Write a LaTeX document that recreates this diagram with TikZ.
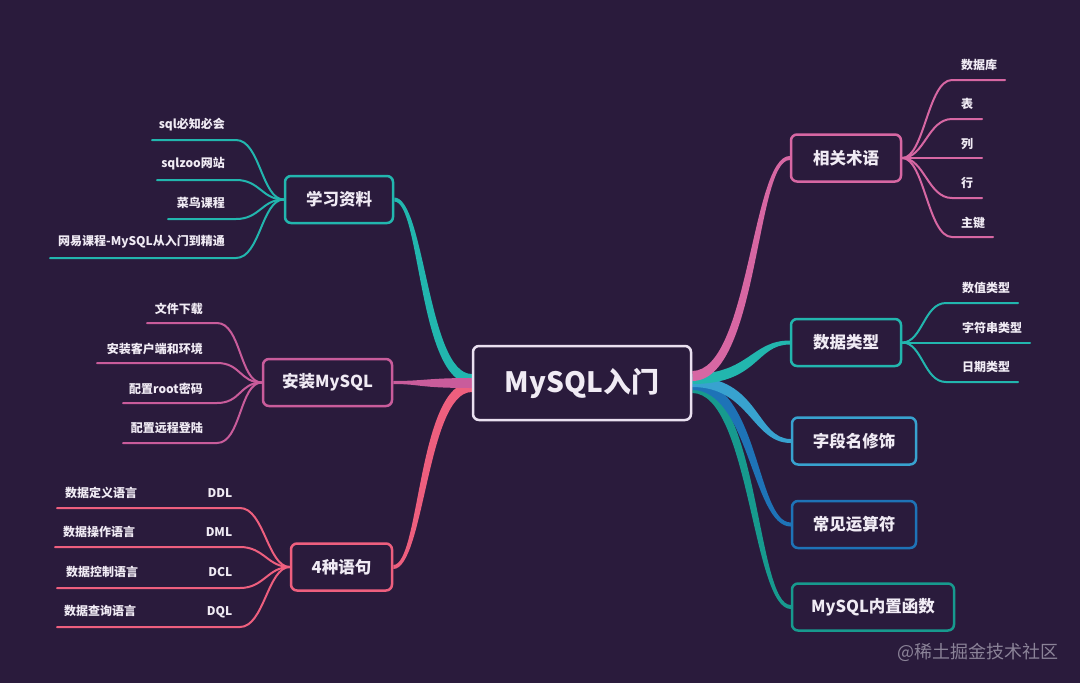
\documentclass[tikz,border=0pt]{standalone}
\usepackage{fontspec}
\setmainfont{Noto Sans CJK SC}
\usetikzlibrary{calc}
\definecolor{bg}{HTML}{2A1B3C}
\definecolor{txt}{HTML}{F0EBF4}
\definecolor{cborder}{HTML}{EAE0F0}
\definecolor{tealc}{HTML}{22B6AE}
\definecolor{pinkb}{HTML}{C95C9B}
\definecolor{redp}{HTML}{EE5F7E}
\definecolor{pinka}{HTML}{D767A3}
\definecolor{lblue}{HTML}{38A2CF}
\definecolor{blueb}{HTML}{1E73B7}
\definecolor{dteal}{HTML}{179A8E}
\definecolor{wmgray}{HTML}{8B8398}
\pgfdeclarelayer{bglayer}
\pgfdeclarelayer{brlayer}
\pgfsetlayers{bglayer,brlayer,main}
% tapered branch: color, left point, right point, half width left, half width right, control fraction
\newcommand\tbr[6]{%
  \fill[#1] let \p1=(#2), \p2=(#3), \n1={\x1+#6*(\x2-\x1)},
     \n2={sign(\y1-\y2)*#4}, \n3={sign(\y1-\y2)*#5} in
   (\x1,\y1+#4) .. controls (\n1+\n2,\y1+#4) and (\n1+\n3,\y2+#5) .. (\x2,\y2+#5)
   -- (\x2,\y2-#5) .. controls (\n1-\n3,\y2-#5) and (\n1-\n2,\y1-#4) .. (\x1,\y1-#4) -- cycle;}
\begin{document}
\begin{tikzpicture}[x=1pt,y=-1pt,
  box/.style={draw=#1, line width=2.5pt, rounded corners=6pt, fill=bg, text=txt,
    font=\fontsize{16.5}{18}\selectfont\bfseries, inner sep=0pt, minimum height=47pt},
  cbox/.style={draw=cborder, line width=2.5pt, rounded corners=6pt, fill=bg, text=txt,
    font=\fontsize{28}{30}\selectfont\bfseries, inner sep=0pt, minimum height=74pt, minimum width=218pt},
  leaf/.style={text=txt, font=\fontsize{12}{14}\selectfont\bfseries, inner sep=0pt},
  twig/.style={draw=#1, line width=2pt, line cap=round},
  wmark/.style={text=wmgray, font=\fontsize{18}{20}\selectfont, inner sep=0pt}]
\begin{pgfonlayer}{bglayer}
\fill[bg] (0,0) rectangle (1080,683);
\end{pgfonlayer}
\useasboundingbox (0,0) rectangle (1080,683);

% main nodes
\node[cbox] (c) at (582,383) {MySQL入门};
\node[box=tealc, minimum width=108pt] (xx) at (339,199.5) {学习资料};
\node[box=pinkb, minimum width=129pt] (az) at (327.5,382.5) {安装MySQL};
\node[box=redp, minimum width=101pt] (yj) at (341.5,567) {4种语句};
\node[box=pinka, minimum width=110pt] (sg) at (846,158) {相关术语};
\node[box=tealc, minimum width=110pt] (lx) at (846,342.5) {数据类型};
\node[box=lblue, minimum width=124pt] (zd) at (854,441) {字段名修饰};
\node[box=blueb, minimum width=124pt] (ys) at (854,524.5) {常见运算符};
\node[box=dteal, minimum width=162pt] (hs) at (873,607) {MySQL内置函数};

% main branches
\begin{pgfonlayer}{brlayer}
\tbr{tealc}{xx.east}{$(c.west)+(0,-4)$}{2pt}{5pt}{0.37}
\tbr{redp}{yj.east}{$(c.west)+(0,4)$}{2pt}{5pt}{0.37}
\tbr{pinkb}{az.east}{c.west}{1.5pt}{5pt}{0.37}
\tbr{dteal}{$(c.east)+(0,5)$}{hs.west}{5pt}{2pt}{0.63}
\tbr{blueb}{$(c.east)+(0,2)$}{ys.west}{5pt}{2pt}{0.63}
\tbr{lblue}{$(c.east)+(0,-1)$}{zd.west}{5pt}{2pt}{0.63}
\tbr{tealc}{$(c.east)+(0,-4)$}{lx.west}{5pt}{2pt}{0.63}
\tbr{pinka}{$(c.east)+(0,-7)$}{sg.west}{5pt}{2pt}{0.63}
\end{pgfonlayer}

% 学习资料 leaves
\node[leaf, anchor=east] (x1) at (225,125) {sql必知必会};
\node[leaf, anchor=east] (x2) at (225,164) {sqlzoo网站};
\node[leaf, anchor=east] (x3) at (225,203) {菜鸟课程};
\node[leaf, anchor=east] (x4) at (225,242) {网易课程-MySQL从入门到精通};
\coordinate (x1a) at (152,140); \coordinate (x1b) at (236,140);
\coordinate (x2a) at (157,180); \coordinate (x2b) at (236,180);
\coordinate (x3a) at (168,219); \coordinate (x3b) at (236,219);
\coordinate (x4a) at (50,258);  \coordinate (x4b) at (236,258);
\begin{pgfonlayer}{brlayer}
\foreach \i in {1,...,4}
  \draw[twig=tealc] (x\i a) -- (x\i b) .. controls +(24,0) and +(-22,0) .. (xx.west);
\end{pgfonlayer}

% 安装MySQL leaves
\node[leaf, anchor=east] (a1) at (203,309) {文件下载};
\node[leaf, anchor=east] (a2) at (203,349) {安装客户端和环境};
\node[leaf, anchor=east] (a3) at (203,389) {配置root密码};
\node[leaf, anchor=east] (a4) at (203,428) {配置远程登陆};
\coordinate (a1a) at (147,323); \coordinate (a1b) at (217,323);
\coordinate (a2a) at (97,363);  \coordinate (a2b) at (217,363);
\coordinate (a3a) at (123,403); \coordinate (a3b) at (217,403);
\coordinate (a4a) at (123,443); \coordinate (a4b) at (217,443);
\begin{pgfonlayer}{brlayer}
\foreach \i in {1,...,4}
  \draw[twig=pinkb] (a\i a) -- (a\i b) .. controls +(24,0) and +(-22,0) .. (az.west);
\end{pgfonlayer}

% 4种语句 leaves
\node[leaf, anchor=west, text width=167pt] (y1) at (65,493) {数据定义语言\hfill DDL};
\node[leaf, anchor=west, text width=169pt] (y2) at (63,532) {数据操作语言\hfill DML};
\node[leaf, anchor=west, text width=166pt] (y3) at (66,572) {数据控制语言\hfill DCL};
\node[leaf, anchor=west, text width=168pt] (y4) at (64,612) {数据查询语言\hfill DQL};
\coordinate (y1a) at (57,508); \coordinate (y1b) at (240,508);
\coordinate (y2a) at (55,547); \coordinate (y2b) at (240,547);
\coordinate (y3a) at (57,588); \coordinate (y3b) at (240,588);
\coordinate (y4a) at (57,627); \coordinate (y4b) at (240,627);
\begin{pgfonlayer}{brlayer}
\foreach \i in {1,...,4}
  \draw[twig=redp] (y\i a) -- (y\i b) .. controls +(24,0) and +(-22,0) .. (yj.west);
\end{pgfonlayer}

% 相关术语 leaves
\node[leaf, anchor=west] (s1) at (961,65) {数据库};
\node[leaf, anchor=west] (s2) at (961,104) {表};
\node[leaf, anchor=west] (s3) at (961,144) {列};
\node[leaf, anchor=west] (s4) at (961,183) {行};
\node[leaf, anchor=west] (s5) at (961,223) {主键};
\coordinate (s1a) at (952,80);  \coordinate (s1b) at (1005,80);
\coordinate (s2a) at (952,119); \coordinate (s2b) at (982,119);
\coordinate (s3b) at (982,158);
\coordinate (s4a) at (952,198); \coordinate (s4b) at (982,198);
\coordinate (s5a) at (952,237); \coordinate (s5b) at (993,237);
\begin{pgfonlayer}{brlayer}
\foreach \i in {1,2,4,5}
  \draw[twig=pinka] (sg.east) .. controls +(22,0) and +(-24,0) .. (s\i a) -- (s\i b);
\draw[twig=pinka] (sg.east) -- (s3b);
\end{pgfonlayer}

% 数据类型 leaves
\node[leaf, anchor=west] (t1) at (962,288) {数值类型};
\node[leaf, anchor=west] (t2) at (962,328) {字符串类型};
\node[leaf, anchor=west] (t3) at (962,367) {日期类型};
\coordinate (t1a) at (946,303); \coordinate (t1b) at (1018,303);
\coordinate (t2b) at (1030,342.5);
\coordinate (t3a) at (946,382); \coordinate (t3b) at (1018,382);
\begin{pgfonlayer}{brlayer}
\foreach \i in {1,3}
  \draw[twig=tealc] (lx.east) .. controls +(20,0) and +(-22,0) .. (t\i a) -- (t\i b);
\draw[twig=tealc] (lx.east) -- (t2b);
\end{pgfonlayer}

% watermark
\node[wmark, anchor=west] (wm) at (897,652) {@稀土掘金技术社区};
\end{tikzpicture}
\end{document}
